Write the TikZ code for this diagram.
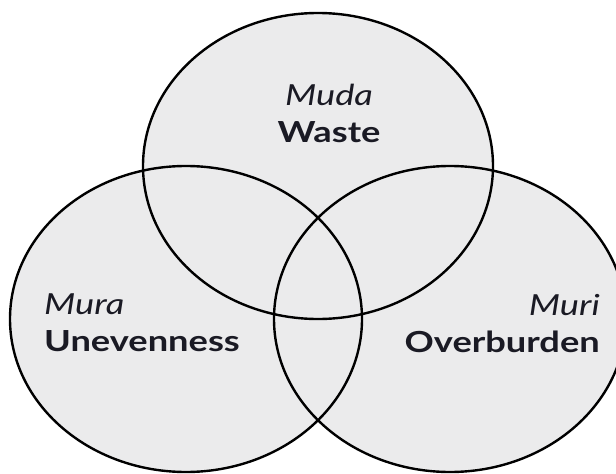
\documentclass[tikz,border=0pt]{standalone}
\usepackage{fontspec}
\setmainfont{Lato}[FakeStretch=1.25]
\usepackage{tikz}
\definecolor{VENN-GREY}{RGB}{235, 235, 236}
\definecolor{VENN-INK}{RGB}{26, 26, 36}

\tikzset{
  label text/.style={VENN-INK, inner sep=0pt, font=\fontsize{29}{37}\selectfont},
}

\begin{document}
\begin{tikzpicture}[x=1pt, y=-1pt]
  \useasboundingbox (0,0) rectangle (616,474);
  \clip (0,0) rectangle (616,474);

  % Fill all three sets first
  \fill[VENN-GREY] (318,166) ellipse (175 and 153);
  \fill[VENN-GREY] (186,319) ellipse (176 and 153);
  \fill[VENN-GREY] (450,319) ellipse (176 and 153);

  % Outlines on top
  \draw[black, line width=2.4pt] (318,166) ellipse (175 and 153);
  \draw[black, line width=2.4pt] (186,319) ellipse (176 and 153);
  \draw[black, line width=2.4pt] (450,319) ellipse (176 and 153);

  % Labels
  \node[label text, align=center, anchor=base] (muda) at (329,142)
    {\textit{Muda}\\\textbf{Waste}};
  \node[label text, align=left, anchor=base west] (mura) at (44,351)
    {\textit{Mura}\\\textbf{Unevenness}};
  \node[label text, align=right, anchor=base east] (muri) at (600,352)
    {\textit{Muri}\\\textbf{Overburden}};
\end{tikzpicture}
\end{document}
